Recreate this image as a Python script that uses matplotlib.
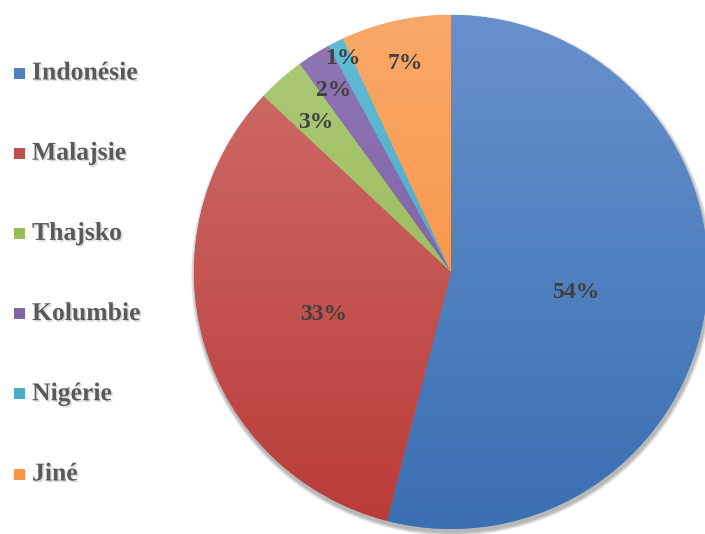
import numpy as np
import matplotlib
matplotlib.use("Agg")
import matplotlib.pyplot as plt
from matplotlib.patches import Rectangle, Circle
from matplotlib.colors import LinearSegmentedColormap
import matplotlib.patheffects as pe

# --- data ---
zeme = ["Indonésie", "Malajsie", "Thajsko", "Kolumbie", "Nigérie", "Jiné"]
podil = [54, 33, 3, 2.1, 1, 6.9]
popisky = ["54%", "33%", "3%", "2%", "1%", "7%"]

# --- style ---
barvy_nahore = ["#6791cc", "#d0706d", "#aecb78", "#9178b6", "#62bcd6", "#f9a869"]
barvy_dole = ["#3a6fb2", "#b93b38", "#8db04b", "#6f519a", "#3b9fbe", "#f68b30"]
barvy_legenda = ["#4f81bd", "#c0504d", "#9bbb59", "#8064a2", "#4bacc6", "#f79646"]
vzdalenost = [0.49, 0.52, 0.80, 0.86, 0.95, 0.85]

W, H = 705, 534
cx, cy, r = 451, H - 272, 257

fig = plt.figure(figsize=(W / 100, H / 100), dpi=100)
ax = fig.add_axes([0, 0, 1, 1])

# soft shadow under the pie
for k in range(6):
    ax.add_patch(Circle((cx + 1, cy - 3), r + 1 + k * 0.6, color="black",
                        alpha=0.05, lw=0, zorder=0))

wedges, _ = ax.pie(podil, center=(cx, cy), radius=r, startangle=90,
                   counterclock=False, colors=barvy_legenda,
                   wedgeprops=dict(linewidth=0))

# vertical gradient in each slice
grad = np.linspace(1, 0, 256).reshape(-1, 1)
for w, c1, c2 in zip(wedges, barvy_nahore, barvy_dole):
    cmap = LinearSegmentedColormap.from_list("g", [c2, c1])
    im = ax.imshow(grad, cmap=cmap, aspect="auto", origin="upper",
                   extent=(cx - r, cx + r, cy - r, cy + r), zorder=2)
    im.set_clip_path(w)
    w.set_zorder(1)

# percentage labels
for w, txt, d in zip(wedges, popisky, vzdalenost):
    ang = np.deg2rad((w.theta1 + w.theta2) / 2)
    ax.text(cx + d * r * np.cos(ang) + 1, cy + d * r * np.sin(ang) - 5, txt,
            ha="center", va="center", fontsize=17, fontweight="bold",
            family="Liberation Serif", color="#404040", zorder=5)

# legend on the left
stin = [pe.withSimplePatchShadow(offset=(1.2, -1.2), shadow_rgbFace="#999999", alpha=0.35)]
for i, (name, col) in enumerate(zip(zeme, barvy_legenda)):
    y = H - (73 + 80.2 * i)
    ax.add_patch(Rectangle((14, y - 5.5), 11, 11, color=col, lw=0, zorder=5))
    ax.text(32, y, name, ha="left", va="center", fontsize=18.5, fontweight="bold",
            family="Liberation Serif", color="#595959", zorder=5,
            path_effects=stin)

ax.set_xlim(0, W)
ax.set_ylim(0, H)
ax.set_aspect("equal")
ax.axis("off")

fig.savefig("out.png", dpi=100)
